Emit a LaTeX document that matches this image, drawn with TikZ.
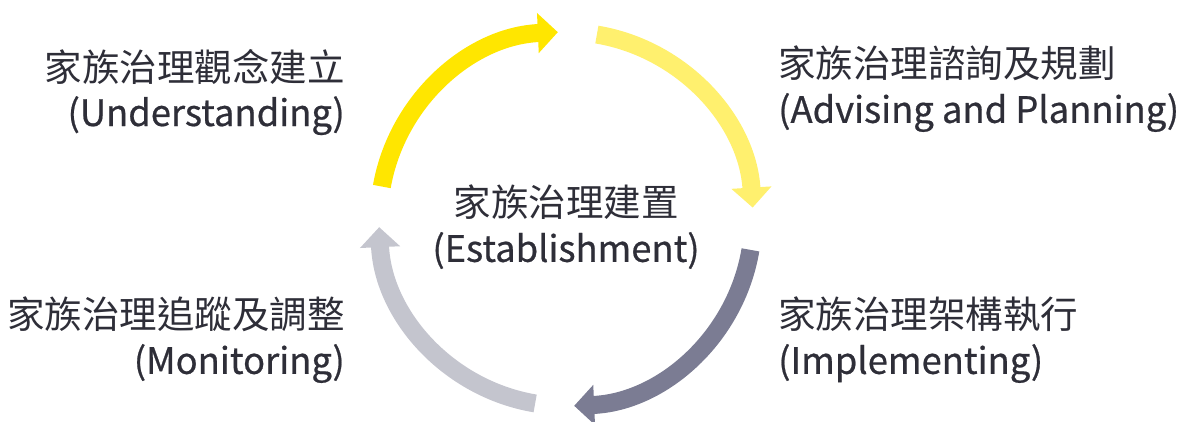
\documentclass[tikz,border=0pt]{standalone}
\usepackage{fontspec}
\setmainfont{Noto Sans CJK TC}
\newfontfamily\enfont{Noto Sans CJK TC}[FakeBold=0.6,Scale=0.97]
\usetikzlibrary{arrows.meta,calc}
\definecolor{eyyellow}{HTML}{FFE600}
\definecolor{eylightyellow}{HTML}{FFF06E}
\definecolor{eyslate}{HTML}{7B7C93}
\definecolor{eylightgray}{HTML}{C4C5CE}
\definecolor{eytext}{HTML}{2E2E38}

\begin{document}
\begin{tikzpicture}[x=1pt, y=1pt, every node/.style={text=eytext, inner sep=0pt, font=\fontsize{37.5}{45}\selectfont}]
	\tikzstyle{cyclearc}=[line width=18pt, -{Triangle[width=39pt,length=20pt]}]
	\useasboundingbox (0,0) rectangle (1190,421);
	\coordinate (hub) at (566,202);
	\coordinate (s1) at ($(hub)+(170:187)$);
	\coordinate (s2) at ($(hub)+(80.5:187)$);
	\coordinate (s3) at ($(hub)+(-9.5:187)$);
	\coordinate (s4) at ($(hub)+(-99.5:187)$);
	\draw[cyclearc, eyyellow] (s1) arc[start angle=170, end angle=92.5, radius=187];
	\draw[cyclearc, eylightyellow] (s2) arc[start angle=80.5, end angle=3.5, radius=187];
	\draw[cyclearc, eyslate] (s3) arc[start angle=-9.5, end angle=-87.5, radius=187];
	\draw[cyclearc, eylightgray] (s4) arc[start angle=-99.5, end angle=-177.5, radius=187];
	\node[align=center] (establish) at (hub) [yshift=-8pt] {家族治理建置\\{\enfont (Establishment)}};
	\node[align=right, anchor=east] (understand) at (345,329) {家族治理觀念建立\\{\enfont (Understanding)}};
	\node[align=left, anchor=west] (advise) at (778,332) {家族治理諮詢及規劃\\{\enfont (Advising and Planning)}};
	\node[align=left, anchor=west] (implement) at (778,81) {家族治理架構執行\\{\enfont (Implementing)}};
	\node[align=right, anchor=east] (monitor) at (345,81) {家族治理追蹤及調整\\{\enfont (Monitoring)}};
\end{tikzpicture}
\end{document}
